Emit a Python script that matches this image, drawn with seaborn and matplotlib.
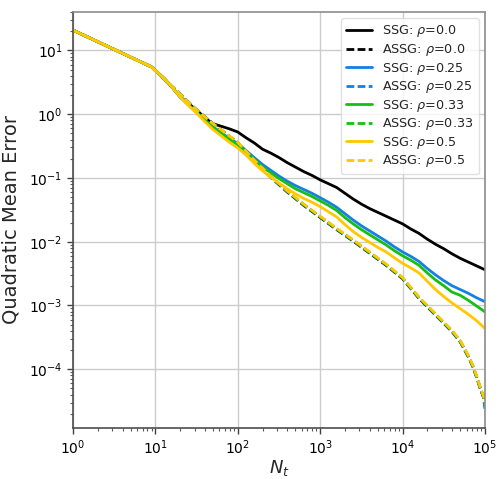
import numpy as np
import pandas as pd
import seaborn as sns
import matplotlib
matplotlib.use("Agg")
import matplotlib.pyplot as plt

# Iteration counts for the SSG runs
n_ssg = [1, 9, 13, 16, 20, 25, 32, 40, 50, 63, 79,
         100, 126, 158, 200, 251, 316, 398, 501, 631, 794,
         1000, 1259, 1585, 1995, 2512, 3162, 3981, 5012, 6310, 7943,
         10000, 12589, 15849, 19953, 25119, 31623, 39811, 50119, 63096, 79433,
         100000]

# log10 of the quadratic mean error, SSG
log_err_ssg_0 = [1.317, 0.74, 0.55, 0.42, 0.27, 0.17, 0.06, -0.06, -0.15, -0.19, -0.23,
                 -0.28, -0.37, -0.45, -0.55, -0.61, -0.68, -0.76, -0.83, -0.90, -0.96,
                 -1.03, -1.09, -1.15, -1.24, -1.33, -1.41, -1.48, -1.54, -1.60, -1.66,
                 -1.72, -1.80, -1.87, -1.96, -2.04, -2.11, -2.19, -2.26, -2.32, -2.38,
                 -2.44]
log_err_ssg_25 = [1.317, 0.74, 0.55, 0.42, 0.27, 0.15, 0.03, -0.09, -0.20, -0.29, -0.38,
                  -0.46, -0.57, -0.68, -0.79, -0.88, -0.97, -1.05, -1.12, -1.18, -1.24,
                  -1.31, -1.38, -1.46, -1.56, -1.66, -1.75, -1.83, -1.91, -1.99, -2.08,
                  -2.16, -2.23, -2.31, -2.42, -2.52, -2.61, -2.69, -2.75, -2.81, -2.88,
                  -2.94]
log_err_ssg_33 = [1.317, 0.74, 0.55, 0.42, 0.27, 0.15, 0.02, -0.10, -0.21, -0.30, -0.39,
                  -0.48, -0.59, -0.71, -0.83, -0.92, -1.01, -1.09, -1.17, -1.23, -1.29,
                  -1.36, -1.43, -1.51, -1.62, -1.72, -1.81, -1.89, -1.97, -2.05, -2.14,
                  -2.22, -2.29, -2.37, -2.49, -2.60, -2.69, -2.79, -2.84, -2.92, -3.01,
                  -3.10]
log_err_ssg_50 = [1.317, 0.74, 0.55, 0.42, 0.27, 0.14, 0.01, -0.12, -0.24, -0.34, -0.44,
                  -0.53, -0.64, -0.77, -0.89, -0.99, -1.08, -1.17, -1.25, -1.32, -1.38,
                  -1.45, -1.53, -1.61, -1.73, -1.84, -1.93, -2.01, -2.09, -2.16, -2.25,
                  -2.34, -2.41, -2.49, -2.62, -2.75, -2.86, -2.96, -3.05, -3.14, -3.24,
                  -3.36]

# Iteration counts for the averaged (ASSG) runs
n_assg = [1, 9, 16, 32, 50, 100, 158, 251, 398, 631,
          1000, 1585, 2512, 3981, 6310, 10000, 15849, 25119, 39811,
          50119, 63096, 70795, 79433, 89125, 95499, 100000]

# log10 of the quadratic mean error, ASSG
log_err_assg_0 = [1.317, 0.74, 0.43, 0.06, -0.15, -0.45, -0.74, -0.99, -1.22, -1.43,
                  -1.62, -1.81, -1.99, -2.18, -2.37, -2.58, -2.89, -3.15, -3.41,
                  -3.57, -3.81, -3.95, -4.13, -4.33, -4.43, -4.58]
log_err_assg_25 = [1.317, 0.74, 0.43, 0.06, -0.15, -0.45, -0.73, -0.98, -1.21, -1.42,
                   -1.61, -1.80, -1.98, -2.17, -2.36, -2.57, -2.88, -3.14, -3.40,
                   -3.56, -3.80, -3.94, -4.12, -4.32, -4.43, -4.62]
log_err_assg_33 = [1.317, 0.74, 0.43, 0.06, -0.15, -0.45, -0.73, -0.98, -1.21, -1.42,
                   -1.61, -1.80, -1.98, -2.17, -2.36, -2.57, -2.88, -3.14, -3.40,
                   -3.56, -3.80, -3.94, -4.12, -4.32, -4.42, -4.55]
log_err_assg_50 = [1.317, 0.74, 0.43, 0.06, -0.15, -0.44, -0.72, -0.97, -1.20, -1.41,
                   -1.60, -1.79, -1.97, -2.16, -2.35, -2.56, -2.87, -3.13, -3.39,
                   -3.55, -3.79, -3.93, -4.11, -4.31, -4.41, -4.52]

rho_labels = ["0.0", "0.25", "0.33", "0.5"]
colors = ["#000000", "#167fe2", "#16be16", "#ffc800"]

ssg_series = [log_err_ssg_0, log_err_ssg_25, log_err_ssg_33, log_err_ssg_50]
assg_series = [log_err_assg_0, log_err_assg_25, log_err_assg_33, log_err_assg_50]

sns.set_style("whitegrid", {
    "axes.edgecolor": ".25",
    "grid.color": ".8",
    "xtick.bottom": True,
    "ytick.left": True,
    "xtick.color": ".25",
    "ytick.color": ".25",
})
plt.rcParams["font.family"] = ["DejaVu Sans"]
plt.rcParams["mathtext.fontset"] = "dejavusans"

fig = plt.figure(figsize=(5.03, 4.79), dpi=100)
ax = fig.add_axes([0.1451, 0.1065, 0.819, 0.8685])

dash_pattern = (0, (2.8, 1.2))
for rho, col, ssg, assg in zip(rho_labels, colors, ssg_series, assg_series):
    df_s = pd.DataFrame({"N": n_ssg, "err": 10.0 ** np.asarray(ssg)})
    df_a = pd.DataFrame({"N": n_assg, "err": 10.0 ** np.asarray(assg)})
    sns.lineplot(data=df_s, x="N", y="err", ax=ax, color=col, lw=2,
                 label=rf"SSG: $\rho$={rho}", errorbar=None)
    sns.lineplot(data=df_a, x="N", y="err", ax=ax, color=col, lw=2,
                 linestyle=dash_pattern, label=rf"ASSG: $\rho$={rho}", errorbar=None)

ax.set_xscale("log")
ax.set_yscale("log")
ax.set_xlim(1, 1e5)
ax.set_ylim(1.2e-5, 40)

ax.grid(True, which="major", color=".8", lw=1)
ax.grid(False, which="minor")
ax.tick_params(which="major", length=4, width=1, labelsize=10, colors=".25")
ax.tick_params(which="minor", length=2, width=0.8, colors=".35")
ax.tick_params(axis="both", labelcolor="black")

for side in ["left", "bottom"]:
    ax.spines[side].set_color(".3")
    ax.spines[side].set_linewidth(1.2)
for side in ["top", "right"]:
    ax.spines[side].set_color(".55")
    ax.spines[side].set_linewidth(1.2)

ax.set_xlabel(r"$N_t$", fontsize=13, labelpad=1)
ax.set_ylabel("Quadratic Mean Error", fontsize=14, labelpad=6)

ax.legend(loc="upper right", fontsize=9.2, labelspacing=0.2,
          framealpha=0.8, edgecolor="0.85", fancybox=True)

fig.savefig("out.png", dpi=100)
